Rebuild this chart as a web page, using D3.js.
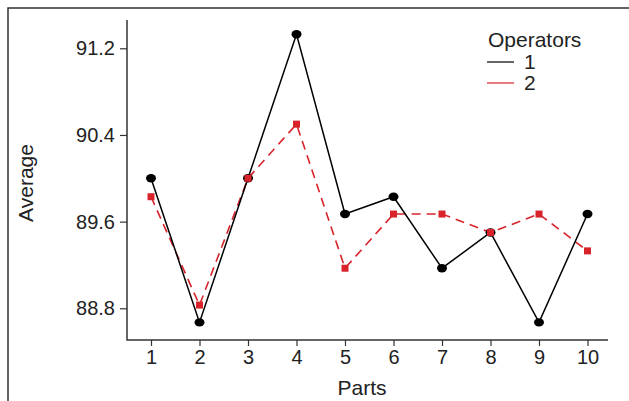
<!DOCTYPE html>
<html><head><meta charset="utf-8">
<script src="https://cdn.jsdelivr.net/npm/d3@7"></script>
<style>body{margin:0;background:#fff}svg{display:block;font-family:"Liberation Sans",Arial,sans-serif}</style>
</head><body>
<svg id="c" width="629" height="401"></svg>
<script>
const parts = [1,2,3,4,5,6,7,8,9,10];
const op1 = [90.0, 88.67, 90.0, 91.33, 89.67, 89.83, 89.17, 89.5, 88.67, 89.67];
const op2 = [89.83, 88.83, 90.0, 90.5, 89.17, 89.67, 89.67, 89.5, 89.67, 89.33];
const yTicks = [88.8, 89.6, 90.4, 91.2];
const seriesNames = ["1","2"];

const svg = d3.select("#c");
const x = d3.scaleLinear().domain([1,10]).range([151,587.5]);
const y = d3.scaleLinear().domain([88.8,91.2]).range([308.3,48.3]);
const red = "#d8232a";

// outer frame (top and left)
svg.append("path").attr("d","M8,401V8H629").attr("fill","none").attr("stroke","#333").attr("stroke-width",1.5);

// axes
const yAxis = d3.axisLeft(y).tickValues(yTicks).tickFormat(d3.format(".1f")).tickSize(7).tickPadding(5);
const gy = svg.append("g").attr("transform","translate(127,0)").call(yAxis);
gy.select(".domain").remove();
const xAxis = d3.axisBottom(x).tickValues(parts).tickFormat(d3.format("d")).tickSize(6).tickPadding(4);
const gx = svg.append("g").attr("transform","translate(0,340)").call(xAxis);
gx.select(".domain").remove();
svg.append("path").attr("d","M127,20V340H608").attr("fill","none").attr("stroke","#333").attr("stroke-width",1.5);
svg.selectAll(".tick line").attr("stroke","#333").attr("stroke-width",1.2);
svg.selectAll(".tick text").attr("font-size",20).attr("fill","#222").attr("font-family","Liberation Sans, Arial, sans-serif");

// axis titles
svg.append("text").attr("x",362).attr("y",395).attr("text-anchor","middle").attr("font-size",21).attr("fill","#222").text("Parts");
svg.append("text").attr("transform","translate(33,183) rotate(-90)").attr("text-anchor","middle").attr("font-size",21).attr("fill","#222").text("Average");

const line = d3.line().x((d,i)=>x(parts[i])).y(d=>y(d));
// series 2 (red dashed)
svg.append("path").datum(op2).attr("d",line).attr("fill","none").attr("stroke",red).attr("stroke-width",1.6).attr("stroke-dasharray","9,6");
// series 1 (black)
svg.append("path").datum(op1).attr("d",line).attr("fill","none").attr("stroke","#000").attr("stroke-width",1.5);
svg.selectAll(".p1").data(op1).join("ellipse").attr("cx",(d,i)=>x(parts[i])).attr("cy",d=>y(d)).attr("rx",5).attr("ry",4.2).attr("fill","#000");
svg.selectAll(".p2").data(op2).join("rect").attr("x",(d,i)=>x(parts[i])-3.5).attr("y",d=>y(d)-3.5).attr("width",7).attr("height",7).attr("fill",red);

// legend
svg.append("text").attr("x",488).attr("y",47).attr("font-size",21).attr("fill","#222").text("Operators");
const lg = svg.selectAll(".lg").data(seriesNames).join("g").attr("transform",(d,i)=>`translate(0,${62+i*21})`);
lg.append("line").attr("x1",487).attr("x2",514).attr("y1",0).attr("y2",0).attr("stroke",(d,i)=>i?red:"#000").attr("stroke-width",1.2);
lg.append("text").attr("x",524).attr("y",7).attr("font-size",21).attr("fill","#222").text(d=>d);
</script>
</body></html>
